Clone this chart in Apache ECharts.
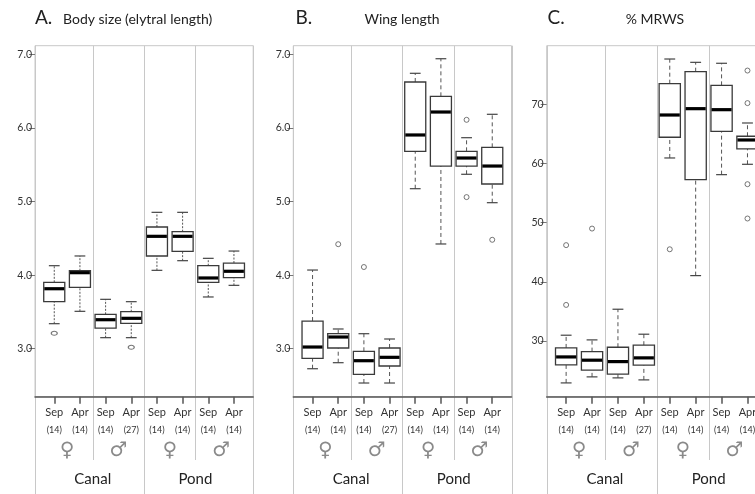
<!DOCTYPE html>
<html><head><meta charset="utf-8">
<script src="https://cdn.jsdelivr.net/npm/echarts@6/dist/echarts.min.js"></script>
<style>html,body{margin:0;padding:0;background:#fff}#c{width:755px;height:494px}</style>
</head><body><div id="c"></div>
<script>
// ---------- DATA ----------
const monthLabels = ['Sep','Apr','Sep','Apr','Sep','Apr','Sep','Apr'];
const sampleSizes = ['(14)','(14)','(14)','(27)','(14)','(14)','(14)','(14)'];
const sexLabels = ['♀','♂','♀','♂'];
const siteLabels = ['Canal','Pond'];
const panelLetters = ['A.','B.','C.'];
const panelTitles = ['Body size (elytral length)','Wing length','% MRWS'];
const yTicksBody = [3,4,5,6,7];
const yTicksWing = [3,4,5,6,7];
const yTicksMrws = [30,40,50,60,70];
// [lower whisker, Q1, median, Q3, upper whisker]
const bodySize = [
  [3.34,3.639,3.815,3.902,4.128],
  [3.508,3.834,4.033,4.06,4.26],
  [3.15,3.281,3.394,3.467,3.671],
  [3.15,3.345,3.413,3.503,3.639],
  [4.065,4.26,4.527,4.654,4.853],
  [4.196,4.323,4.527,4.59,4.853],
  [3.703,3.902,3.961,4.128,4.228],
  [3.861,3.965,4.052,4.164,4.327]
];
const bodyOutliers = [[0,3.21],[3,3.02]];
const wingLength = [
  [2.728,2.87,3.023,3.376,4.069],
  [2.81,3.01,3.159,3.204,3.268],
  [2.534,2.652,2.837,2.965,3.204],
  [2.534,2.765,2.883,3.01,3.132],
  [5.174,5.682,5.904,6.624,6.742],
  [4.423,5.482,6.216,6.429,6.94],
  [5.37,5.482,5.591,5.682,5.867],
  [4.984,5.238,5.482,5.736,6.185]
];
const wingOutliers = [[1,4.42],[2,4.11],[6,6.11],[6,5.06],[7,4.48]];
const mrws = [
  [22.92,25.96,27.31,28.83,30.98],
  [23.94,25.07,26.76,28.21,30.19],
  [23.77,24.39,26.52,28.95,35.37],
  [23.43,25.91,27.15,29.29,31.15],
  [60.93,64.43,68.19,73.48,77.65],
  [41.05,57.27,69.26,75.51,77.09],
  [58.11,65.44,69.09,73.2,76.93],
  [59.86,62.45,63.97,64.6,66.84]
];
const mrwsOutliers = [[0,46.2],[0,36.1],[1,49.0],[4,45.5],[7,75.7],[7,70.2],[7,56.5],[7,50.7]];

// ---------- LAYOUT ----------
const FONT = 'Lato, "Open Sans", sans-serif';
const TOP = 45.7, AXIS_Y = 396.7;
const X0 = 0.25, X1 = 8.75;
const catPos = monthLabels.map((_, i) => i + 1);
const sexPos = [1.5, 3.5, 5.5, 7.5];
const sitePos = [2.5, 6.5];
const panels = [
  {box: bodySize, out: bodyOutliers, ticks: yTicksBody, dec: 1, left: 35, width: 218.2, ymin: 2.348, ymax: 7.117, dash: [2, 1.5], sym: [6, 4]},
  {box: wingLength, out: wingOutliers, ticks: yTicksWing, dec: 1, left: 293.3, width: 218.2, ymin: 2.348, ymax: 7.117, dash: [4, 3], sym: 5},
  {box: mrws, out: mrwsOutliers, ticks: yTicksMrws, dec: 0, left: 546.7, width: 220.2, ymin: 20.59, ymax: 79.9, dash: [4, 3], sym: 5}
];

function renderBox(dash) {
  return function (params, api) {
    const x = api.value(0);
    const c = [1, 2, 3, 4, 5].map(k => api.coord([x, api.value(k)]));
    const cx = c[0][0];
    const bw = api.size([0.82, 0])[0];
    const cw = api.size([0.42, 0])[0];
    const stroke = '#3a3a3a';
    const wStyle = {stroke: '#555', lineWidth: 1, lineDash: dash};
    const cStyle = {stroke: '#444', lineWidth: 1.2};
    return {type: 'group', children: [
      {type: 'line', shape: {x1: cx, y1: c[3][1], x2: cx, y2: c[4][1]}, style: wStyle},
      {type: 'line', shape: {x1: cx, y1: c[0][1], x2: cx, y2: c[1][1]}, style: wStyle},
      {type: 'line', shape: {x1: cx - cw / 2, y1: c[4][1], x2: cx + cw / 2, y2: c[4][1]}, style: cStyle},
      {type: 'line', shape: {x1: cx - cw / 2, y1: c[0][1], x2: cx + cw / 2, y2: c[0][1]}, style: cStyle},
      {type: 'rect', shape: {x: cx - bw / 2, y: c[3][1], width: bw, height: c[1][1] - c[3][1]}, style: {fill: '#fff', stroke: stroke, lineWidth: 1.3}},
      {type: 'line', shape: {x1: cx - bw / 2 + 0.6, y1: c[2][1], x2: cx + bw / 2 - 0.6, y2: c[2][1]}, style: {stroke: '#000', lineWidth: 3.2}}
    ]};
  };
}

const grid = [], xAxis = [], yAxis = [], series = [];
panels.forEach((p, i) => {
  grid.push({left: p.left, top: TOP, width: p.width, height: AXIS_Y - TOP, show: true,
    borderColor: '#c8c8c8', borderWidth: 1, backgroundColor: 'transparent', outerBoundsMode: 'none', containLabel: false});
  xAxis.push({gridIndex: i, type: 'value', min: X0, max: X1, position: 'bottom',
    axisLine: {onZero: false, lineStyle: {color: '#555', width: 1.5}},
    axisTick: {show: true, customValues: catPos, length: 7, lineStyle: {color: '#555', width: 1.5}},
    splitLine: {show: false},
    axisLabel: {customValues: catPos, margin: 9, fontFamily: FONT,
      formatter: v => `{m|${monthLabels[Math.round(v) - 1]}}\n{n|${sampleSizes[Math.round(v) - 1]}}`,
      rich: {m: {fontSize: 11, lineHeight: 14, color: '#333', fontFamily: FONT},
             n: {fontSize: 9, lineHeight: 20, color: '#333', fontFamily: FONT}}}});
  xAxis.push({gridIndex: i, type: 'value', min: X0, max: X1, position: 'bottom',
    axisLine: {show: false, onZero: false}, axisTick: {show: false}, splitLine: {show: false},
    axisLabel: {customValues: sexPos, margin: 44, fontSize: 20, color: '#8a8a8a', fontFamily: 'DejaVu Sans',
      formatter: v => sexLabels[Math.round((v - 1.5) / 2)]}});
  xAxis.push({gridIndex: i, type: 'value', min: X0, max: X1, position: 'bottom',
    axisLine: {show: false, onZero: false}, axisTick: {show: false}, splitLine: {show: false},
    axisLabel: {customValues: sitePos, margin: 75, fontSize: 15, color: '#222', fontFamily: FONT,
      formatter: v => siteLabels[Math.round((v - 2.5) / 4)]}});
  yAxis.push({gridIndex: i, type: 'value', min: p.ymin, max: p.ymax,
    axisLine: {show: false}, splitLine: {show: false},
    axisTick: {show: true, customValues: p.ticks, length: 6, lineStyle: {color: '#777'}},
    axisLabel: {customValues: p.ticks, margin: 3, fontSize: 10.5, color: '#333', fontFamily: FONT,
      formatter: v => v.toFixed(p.dec)}});
  series.push({type: 'custom', xAxisIndex: 3 * i, yAxisIndex: i, clip: false,
    renderItem: renderBox(p.dash), encode: {x: 0, y: [1, 2, 3, 4, 5]},
    data: p.box.map((b, k) => [k + 1].concat(b)), z: 3});
  series.push({type: 'scatter', xAxisIndex: 3 * i, yAxisIndex: i, symbol: 'circle', symbolSize: p.sym,
    itemStyle: {color: '#fff', borderColor: '#555', borderWidth: 1}, z: 4,
    data: p.out.map(o => [o[0] + 1, o[1]])});
});

const chart = echarts.init(document.getElementById('c'), null, {renderer: 'canvas'});
chart.setOption({animation: false, backgroundColor: '#fff', grid, xAxis, yAxis, series});

// frame lines below the axis and group separators, positioned through the axes
const H = chart.getHeight();
const graphic = [];
const titlePos = [[35, 63, 'left'], [295.5, 402, 'center'], [547.5, 655, 'center']];
panels.forEach((p, i) => {
  const f = {xAxisIndex: 3 * i, yAxisIndex: i};
  [[X0, H], [2.5, 460], [4.5, H], [6.5, 460], [X1, H]].forEach(([xv, yb]) => {
    const pt = chart.convertToPixel(f, [xv, p.ymax]);
    graphic.push({type: 'line', silent: true, z: 0,
      shape: {x1: Math.round(pt[0]) + 0.5, y1: pt[1], x2: Math.round(pt[0]) + 0.5, y2: yb},
      style: {stroke: '#c8c8c8', lineWidth: 1}});
  });
  const tp = titlePos[i];
  graphic.push({type: 'text', x: tp[0], y: 18, style: {text: panelLetters[i], font: '19px ' + FONT, fill: '#222', textVerticalAlign: 'middle'}});
  graphic.push({type: 'text', x: tp[1], y: 19, style: {text: panelTitles[i], font: '14px ' + FONT, fill: '#222', textAlign: tp[2], textVerticalAlign: 'middle'}});
});
chart.setOption({graphic});
</script>
</body></html>
